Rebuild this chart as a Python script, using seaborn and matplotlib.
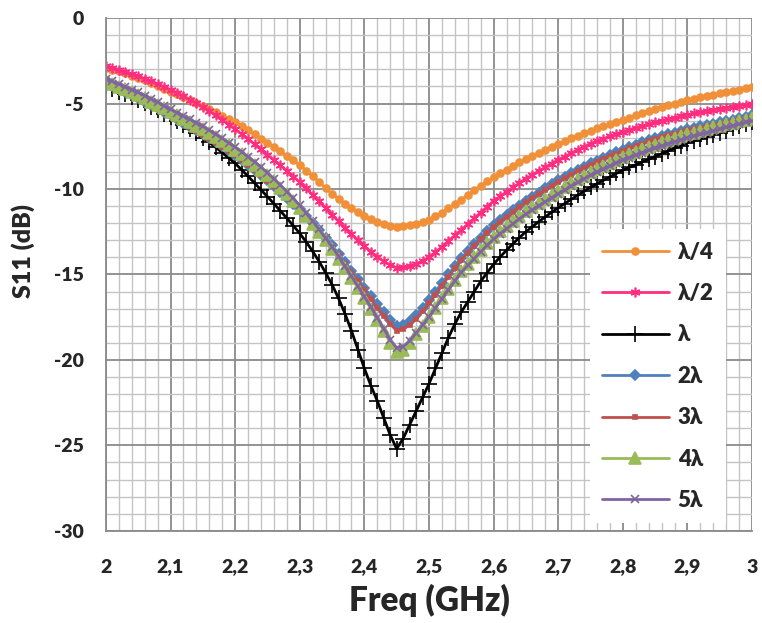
import matplotlib
matplotlib.use("Agg")
import matplotlib.pyplot as plt
from matplotlib.ticker import MultipleLocator, FuncFormatter
import seaborn as sns

# Frequency sweep (GHz)
freq = [2.00, 2.01, 2.02, 2.03, 2.04, 2.05, 2.06, 2.07, 2.08, 2.09,
        2.10, 2.11, 2.12, 2.13, 2.14, 2.15, 2.16, 2.17, 2.18, 2.19,
        2.20, 2.21, 2.22, 2.23, 2.24, 2.25, 2.26, 2.27, 2.28, 2.29,
        2.30, 2.31, 2.32, 2.33, 2.34, 2.35, 2.36, 2.37, 2.38, 2.39,
        2.40, 2.41, 2.42, 2.43, 2.44, 2.45, 2.46, 2.47, 2.48, 2.49,
        2.50, 2.51, 2.52, 2.53, 2.54, 2.55, 2.56, 2.57, 2.58, 2.59,
        2.60, 2.61, 2.62, 2.63, 2.64, 2.65, 2.66, 2.67, 2.68, 2.69,
        2.70, 2.71, 2.72, 2.73, 2.74, 2.75, 2.76, 2.77, 2.78, 2.79,
        2.80, 2.81, 2.82, 2.83, 2.84, 2.85, 2.86, 2.87, 2.88, 2.89,
        2.90, 2.91, 2.92, 2.93, 2.94, 2.95, 2.96, 2.97, 2.98, 2.99, 3.00]

# S11 (dB) for each line length
s11_quarter = [-2.90, -3.01, -3.12, -3.24, -3.37, -3.50, -3.65, -3.80, -3.96, -4.13,
               -4.30, -4.46, -4.63, -4.80, -4.97, -5.15, -5.33, -5.52, -5.71, -5.90,
               -6.10, -6.33, -6.56, -6.80, -7.05, -7.30, -7.55, -7.80, -8.06, -8.33,
               -8.60, -8.92, -9.25, -9.60, -9.95, -10.28, -10.58, -10.86, -11.12, -11.36,
               -11.58, -11.77, -11.93, -12.06, -12.15, -12.20, -12.18, -12.12, -12.04, -11.93,
               -11.80, -11.60, -11.38, -11.14, -10.88, -10.62, -10.35, -10.08, -9.82, -9.56,
               -9.30, -9.08, -8.87, -8.66, -8.45, -8.25, -8.06, -7.88, -7.70, -7.52,
               -7.35, -7.19, -7.04, -6.89, -6.74, -6.60, -6.46, -6.33, -6.20, -6.07,
               -5.95, -5.82, -5.69, -5.56, -5.43, -5.30, -5.20, -5.10, -5.00, -4.90,
               -4.80, -4.72, -4.64, -4.56, -4.48, -4.40, -4.33, -4.26, -4.19, -4.12, -4.05]

s11_half = [-2.80, -2.91, -3.02, -3.14, -3.27, -3.40, -3.55, -3.70, -3.86, -4.03,
            -4.20, -4.39, -4.58, -4.78, -4.99, -5.20, -5.45, -5.70, -5.96, -6.23,
            -6.50, -6.79, -7.08, -7.38, -7.69, -8.00, -8.31, -8.62, -8.94, -9.27,
            -9.60, -9.97, -10.35, -10.73, -11.11, -11.50, -11.89, -12.27, -12.64, -13.00,
            -13.35, -13.67, -13.97, -14.24, -14.46, -14.60, -14.58, -14.50, -14.38, -14.22,
            -14.00, -13.70, -13.38, -13.05, -12.72, -12.40, -12.06, -11.72, -11.38, -11.04,
            -10.70, -10.43, -10.17, -9.91, -9.65, -9.40, -9.17, -8.95, -8.73, -8.51,
            -8.30, -8.10, -7.91, -7.72, -7.53, -7.35, -7.20, -7.06, -6.92, -6.78,
            -6.65, -6.54, -6.43, -6.32, -6.21, -6.10, -6.01, -5.92, -5.83, -5.74,
            -5.65, -5.58, -5.51, -5.44, -5.37, -5.30, -5.24, -5.18, -5.12, -5.06, -5.00]

s11_1 = [-4.00, -4.15, -4.30, -4.46, -4.63, -4.80, -4.99, -5.18, -5.38, -5.59,
         -5.80, -6.03, -6.26, -6.50, -6.75, -7.00, -7.28, -7.57, -7.87, -8.18,
         -8.50, -8.88, -9.26, -9.65, -10.05, -10.45, -10.86, -11.28, -11.71, -12.15,
         -12.60, -13.10, -13.65, -14.25, -14.90, -15.60, -16.40, -17.30, -18.30, -19.40,
         -20.50, -21.50, -22.40, -23.40, -24.40, -25.20, -24.60, -23.80, -23.00, -22.20,
         -21.40, -20.50, -19.60, -18.70, -17.90, -17.20, -16.60, -16.00, -15.40, -14.90,
         -14.40, -13.98, -13.58, -13.20, -12.84, -12.50, -12.20, -11.91, -11.63, -11.36,
         -11.10, -10.85, -10.61, -10.37, -10.13, -9.90, -9.69, -9.49, -9.29, -9.09,
         -8.90, -8.74, -8.58, -8.42, -8.26, -8.10, -7.94, -7.78, -7.62, -7.46,
         -7.30, -7.18, -7.06, -6.94, -6.82, -6.70, -6.58, -6.46, -6.34, -6.22, -6.10]

s11_2 = [-3.80, -3.97, -4.15, -4.33, -4.51, -4.70, -4.89, -5.09, -5.29, -5.49,
         -5.70, -5.91, -6.13, -6.35, -6.57, -6.80, -7.03, -7.27, -7.51, -7.75,
         -8.00, -8.28, -8.57, -8.87, -9.18, -9.50, -9.83, -10.16, -10.50, -10.85,
         -11.20, -11.60, -12.00, -12.42, -12.85, -13.30, -13.78, -14.27, -14.77, -15.28,
         -15.78, -16.27, -16.75, -17.20, -17.65, -18.00, -17.95, -17.70, -17.35, -16.95,
         -16.50, -16.00, -15.50, -15.00, -14.50, -14.05, -13.62, -13.22, -12.84, -12.47,
         -12.12, -11.82, -11.53, -11.25, -10.97, -10.70, -10.45, -10.21, -9.97, -9.73,
         -9.50, -9.29, -9.09, -8.89, -8.69, -8.50, -8.34, -8.18, -8.02, -7.86,
         -7.70, -7.56, -7.42, -7.28, -7.14, -7.00, -6.90, -6.80, -6.70, -6.60,
         -6.50, -6.42, -6.34, -6.26, -6.18, -6.10, -6.02, -5.94, -5.86, -5.78, -5.70]

s11_3 = [-3.82, -3.99, -4.17, -4.35, -4.53, -4.72, -4.91, -5.11, -5.31, -5.51,
         -5.72, -5.93, -6.15, -6.37, -6.59, -6.82, -7.05, -7.29, -7.53, -7.77,
         -8.02, -8.30, -8.59, -8.89, -9.20, -9.52, -9.85, -10.19, -10.54, -10.89,
         -11.25, -11.65, -12.06, -12.49, -12.93, -13.39, -13.88, -14.38, -14.89, -15.41,
         -15.93, -16.44, -16.94, -17.42, -17.90, -18.30, -18.22, -17.95, -17.58, -17.16,
         -16.70, -16.18, -15.66, -15.14, -14.64, -14.18, -13.74, -13.33, -12.94, -12.57,
         -12.22, -11.91, -11.62, -11.34, -11.06, -10.79, -10.54, -10.29, -10.05, -9.81,
         -9.58, -9.37, -9.16, -8.96, -8.76, -8.57, -8.41, -8.25, -8.09, -7.93,
         -7.77, -7.63, -7.49, -7.35, -7.21, -7.07, -6.97, -6.87, -6.77, -6.67,
         -6.57, -6.49, -6.41, -6.33, -6.25, -6.17, -6.09, -6.01, -5.93, -5.85, -5.77]

s11_4 = [-3.70, -3.85, -4.01, -4.17, -4.33, -4.50, -4.69, -4.89, -5.09, -5.29,
         -5.50, -5.69, -5.89, -6.09, -6.29, -6.50, -6.73, -6.96, -7.20, -7.45,
         -7.70, -7.98, -8.27, -8.57, -8.88, -9.20, -9.56, -9.92, -10.30, -10.70,
         -11.10, -11.56, -12.03, -12.51, -13.00, -13.50, -14.07, -14.65, -15.22, -15.80,
         -16.40, -17.00, -17.65, -18.30, -19.00, -19.55, -19.40, -19.00, -18.50, -18.00,
         -17.50, -16.95, -16.40, -15.85, -15.30, -14.80, -14.38, -13.97, -13.57, -13.18,
         -12.80, -12.48, -12.17, -11.88, -11.59, -11.30, -11.05, -10.81, -10.57, -10.33,
         -10.10, -9.88, -9.66, -9.44, -9.22, -9.00, -8.82, -8.64, -8.46, -8.28,
         -8.10, -7.96, -7.82, -7.68, -7.54, -7.40, -7.28, -7.16, -7.04, -6.92,
         -6.80, -6.70, -6.60, -6.50, -6.40, -6.30, -6.21, -6.12, -6.03, -5.94, -5.85]

s11_5 = [-3.55, -3.70, -3.86, -4.02, -4.18, -4.35, -4.54, -4.73, -4.93, -5.13,
         -5.34, -5.53, -5.73, -5.93, -6.13, -6.34, -6.57, -6.80, -7.04, -7.29,
         -7.54, -7.82, -8.11, -8.41, -8.72, -9.04, -9.40, -9.77, -10.15, -10.55,
         -10.96, -11.42, -11.89, -12.37, -12.87, -13.38, -13.95, -14.53, -15.11, -15.70,
         -16.30, -16.90, -17.53, -18.17, -18.82, -19.30, -19.22, -18.88, -18.43, -17.96,
         -17.48, -16.96, -16.43, -15.90, -15.37, -14.88, -14.47, -14.07, -13.68, -13.30,
         -12.93, -12.62, -12.32, -12.03, -11.75, -11.47, -11.22, -10.98, -10.74, -10.51,
         -10.28, -10.06, -9.84, -9.62, -9.41, -9.20, -9.02, -8.84, -8.66, -8.48,
         -8.30, -8.16, -8.02, -7.88, -7.74, -7.60, -7.48, -7.36, -7.24, -7.12,
         -7.00, -6.90, -6.80, -6.70, -6.60, -6.50, -6.40, -6.30, -6.20, -6.10, -6.00]

labels = ["λ/4", "λ/2", "λ", "2λ", "3λ", "4λ", "5λ"]
series = [s11_quarter, s11_half, s11_1, s11_2, s11_3, s11_4, s11_5]
colors = ["#F0913A", "#FF2D7F", "#000000", "#4F81BD", "#C0504D", "#9BBB59", "#8064A2"]
markers = ["o", (6, 2, 0), "+", "D", "s", "^", "x"]
marker_sizes = [5, 7, 11, 5.5, 3.5, 8, 6]

sns.set_style("white")
plt.rcParams["font.family"] = ["Lato", "DejaVu Sans"]
plt.rcParams["font.weight"] = "bold"
plt.rcParams["axes.unicode_minus"] = False

fig = plt.figure(figsize=(7.62, 6.23), dpi=100)
ax = fig.add_axes([0.139, 0.148, 0.848, 0.823])

for vals, lab, col, mk, ms in zip(series, labels, colors, markers, marker_sizes):
    sns.lineplot(x=freq, y=vals, ax=ax, color=col, marker=mk, markersize=ms,
                 markeredgecolor=col, markerfacecolor=col, markeredgewidth=1.2,
                 linewidth=2, label=lab)

ax.set_xlim(2, 3)
ax.set_ylim(-30, 0)
ax.xaxis.set_major_locator(MultipleLocator(0.1))
ax.xaxis.set_minor_locator(MultipleLocator(0.02))
ax.yaxis.set_major_locator(MultipleLocator(5))
ax.yaxis.set_minor_locator(MultipleLocator(1))
ax.xaxis.set_major_formatter(FuncFormatter(lambda v, p: f"{v:g}".replace(".", ",")))

ax.grid(which="major", color="#8A8A8A", linewidth=1.3)
ax.grid(which="minor", color="#C4C4C4", linewidth=1.0)
ax.set_axisbelow(True)

for side in ["top", "right"]:
    ax.spines[side].set_visible(False)
for side in ["left", "bottom"]:
    ax.spines[side].set_color("#8A8A8A")
    ax.spines[side].set_linewidth(1.3)

ax.tick_params(axis="y", which="major", direction="out", length=6, width=1.2,
               color="#8A8A8A", pad=10, labelsize=14)
ax.tick_params(axis="y", which="minor", length=0)
ax.tick_params(axis="x", which="both", length=0, pad=20, labelsize=14)
for t in ax.get_xticklabels() + ax.get_yticklabels():
    t.set_fontweight("heavy")

ax.set_xlabel("Freq (GHz)", fontsize=24, fontweight="heavy", labelpad=6)
ax.set_ylabel("S11 (dB)", fontsize=18, fontweight="heavy")
ax.yaxis.set_label_coords(-0.11, 0.545)

leg = ax.legend(loc="upper left", bbox_to_anchor=(0.749, 0.588), borderaxespad=0,
                frameon=True, fancybox=False, framealpha=1, edgecolor="none",
                facecolor="white", prop={"weight": "heavy", "size": 16},
                handlelength=3.0, labelspacing=0.92, borderpad=0.55, handletextpad=0.4)

fig.savefig("out.png", dpi=100)
